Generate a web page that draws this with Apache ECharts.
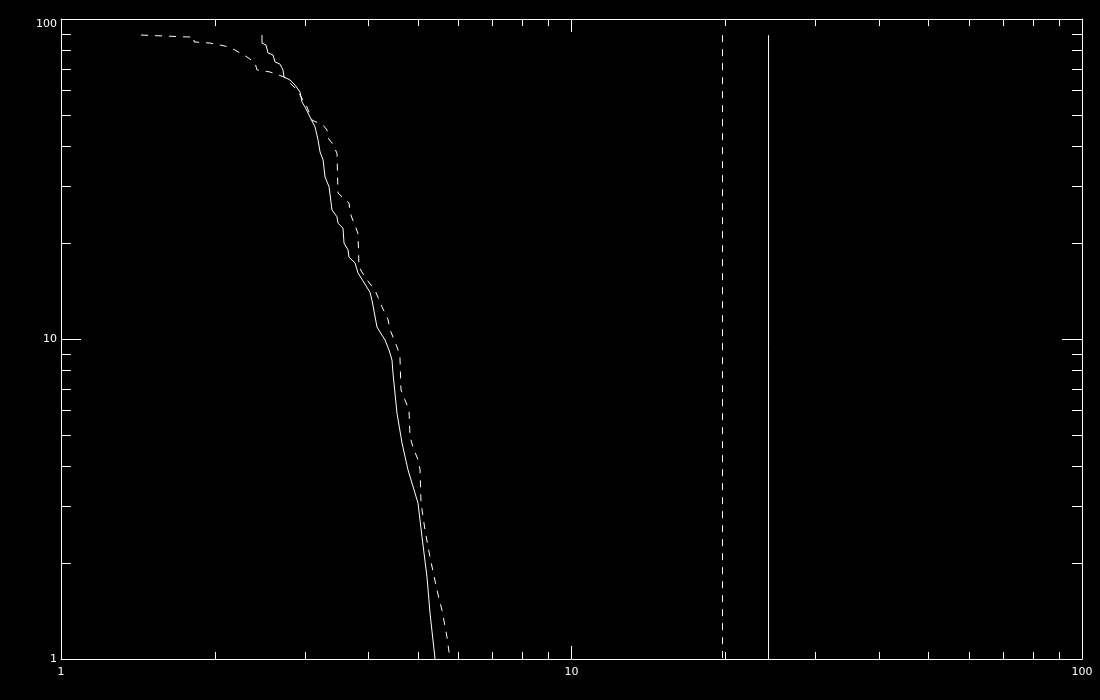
<!DOCTYPE html>
<html>
<head>
<meta charset="utf-8">
<script src="https://cdn.jsdelivr.net/npm/echarts@6/dist/echarts.min.js"></script>
<style>
html,body{margin:0;padding:0;background:#000;}
#chart{width:1100px;height:700px;}
</style>
</head>
<body>
<div id="chart"></div>
<script>
// Solid curve (x, y)
const solidX = [2.476,2.476,2.521,2.544,2.602,2.626,2.685,2.722,2.734,2.809,2.873,2.939,2.966,3.006,3.074,3.145,3.188,3.217,3.261,3.290,3.350,3.395,3.472,3.488,3.568,3.584,3.649,3.666,3.766,3.817,4.030,4.067,4.159,4.312,4.390,4.450,4.470,4.551,4.656,4.783,5.004,5.095,5.212,5.283,5.404];
const solidY = [89.1,84.1,82.9,78.3,77.2,73.4,72.3,69.3,65.9,64.5,62.2,59.1,55.0,53.1,49.4,46.0,41.9,38.4,36.3,32.1,29.9,25.3,24.1,23.0,22.2,19.95,19.0,18.0,17.3,16.1,14.0,13.2,10.9,9.93,9.24,8.60,7.83,5.87,4.73,3.90,3.07,2.41,1.80,1.39,1.0];
// Dashed curve (x, y)
const dashedX = [1.435,1.765,1.822,1.822,1.958,2.096,2.192,2.314,2.399,2.421,2.568,2.734,2.873,2.939,3.033,3.102,3.261,3.319,3.334,3.395,3.472,3.488,3.568,3.666,3.683,3.715,3.817,3.834,3.940,4.122,4.178,4.254,4.371,4.411,4.551,4.572,4.613,4.634,4.719,4.805,4.827,4.892,5.004,5.050,5.073,5.164,5.283,5.452,5.576,5.703,5.781];
const dashedY = [89.1,87.9,87.9,84.8,84.1,82.3,80.0,76.1,72.9,69.3,68.3,65.9,60.9,57.9,53.1,48.3,46.6,45.0,42.5,41.0,38.1,28.6,27.6,26.6,24.9,23.9,21.4,16.8,15.6,14.2,13.5,12.6,11.5,10.7,9.44,9.24,8.78,6.93,6.45,6.00,4.94,4.60,4.19,3.90,3.07,2.53,2.08,1.64,1.42,1.17,1.0];
// Vertical reference lines
const solidVLineX = 24.32;
const dashedVLineX = 19.76;
const vLineTop = 89;
const vLineBottom = 1;
// Axis ranges and minor tick values
const axisMin = 1;
const axisMax = 100;
const minorTickValues = [2,3,4,5,6,7,8,9,20,30,40,50,60,70,80,90];

const zip = (xs, ys) => xs.map((x, i) => [x, ys[i]]);

const chart = echarts.init(document.getElementById('chart'));

const labelFont = {color: '#fff', fontSize: 11, fontFamily: 'DejaVu Sans'};

const option = {
  backgroundColor: '#000',
  animation: false,
  grid: {left: 61, right: 18, top: 19, bottom: 41, containLabel: false, outerBoundsMode: 'none'},
  xAxis: [
    {type: 'log', logBase: 10, min: axisMin, max: axisMax, position: 'bottom',
     axisLine: {show: true, onZero: false, lineStyle: {color: '#fff', width: 1}},
     axisTick: {show: true, inside: true, length: 13, lineStyle: {color: '#fff', width: 1}},
     axisLabel: Object.assign({margin: 8}, labelFont),
     splitLine: {show: false}, minorTick: {show: false}},
    {type: 'log', logBase: 10, min: axisMin, max: axisMax, position: 'top',
     axisLine: {show: true, onZero: false, lineStyle: {color: '#fff', width: 1}},
     axisTick: {show: true, inside: true, length: 13, lineStyle: {color: '#fff', width: 1}},
     axisLabel: {show: false}, splitLine: {show: false}}
  ],
  yAxis: [
    {type: 'log', logBase: 10, min: axisMin, max: axisMax, position: 'left',
     axisLine: {show: true, onZero: false, lineStyle: {color: '#fff', width: 1}},
     axisTick: {show: true, inside: true, length: 20, lineStyle: {color: '#fff', width: 1}},
     axisLabel: Object.assign({margin: 4, verticalAlignMaxLabel: 'top'}, labelFont),
     splitLine: {show: false}},
    {type: 'log', logBase: 10, min: axisMin, max: axisMax, position: 'right',
     axisLine: {show: true, onZero: false, lineStyle: {color: '#fff', width: 1}},
     axisTick: {show: true, inside: true, length: 20, lineStyle: {color: '#fff', width: 1}},
     axisLabel: {show: false}, splitLine: {show: false}}
  ],
  series: [
    {type: 'line', data: zip(solidX, solidY), showSymbol: false, symbol: 'none',
     lineStyle: {color: '#fff', width: 1, type: 'solid'}, silent: true},
    {type: 'line', data: zip(dashedX, dashedY), showSymbol: false, symbol: 'none',
     lineStyle: {color: '#fff', width: 1, type: [7, 7]}, silent: true},
    {type: 'line', data: [[solidVLineX, vLineTop], [solidVLineX, vLineBottom]], showSymbol: false, symbol: 'none',
     lineStyle: {color: '#fff', width: 1, type: 'solid'}, silent: true},
    {type: 'line', data: [[dashedVLineX, vLineTop], [dashedVLineX, vLineBottom]], showSymbol: false, symbol: 'none',
     lineStyle: {color: '#fff', width: 1, type: [7, 7]}, silent: true},
    // x minor ticks (bottom and top)
    {type: 'custom', silent: true, clip: false,
     data: minorTickValues.map(v => [v, axisMin]),
     renderItem: function (params, api) {
       const cs = params.coordSys;
       const x = Math.round(api.coord([api.value(0), api.value(1)])[0]) + 0.5;
       const b = cs.y + cs.height, t = cs.y;
       return {type: 'group', children: [
         {type: 'line', shape: {x1: x, y1: b, x2: x, y2: b - 7}, style: {stroke: '#fff', lineWidth: 1}},
         {type: 'line', shape: {x1: x, y1: t, x2: x, y2: t + 7}, style: {stroke: '#fff', lineWidth: 1}}
       ]};
     }},
    // y minor ticks (left and right)
    {type: 'custom', silent: true, clip: false,
     data: minorTickValues.map(v => [axisMin, v]),
     renderItem: function (params, api) {
       const cs = params.coordSys;
       const y = Math.round(api.coord([api.value(0), api.value(1)])[1]) + 0.5;
       const l = cs.x, r = cs.x + cs.width;
       return {type: 'group', children: [
         {type: 'line', shape: {x1: l, y1: y, x2: l + 10, y2: y}, style: {stroke: '#fff', lineWidth: 1}},
         {type: 'line', shape: {x1: r, y1: y, x2: r - 10, y2: y}, style: {stroke: '#fff', lineWidth: 1}}
       ]};
     }}
  ]
};
chart.setOption(option);
</script>
</body>
</html>
